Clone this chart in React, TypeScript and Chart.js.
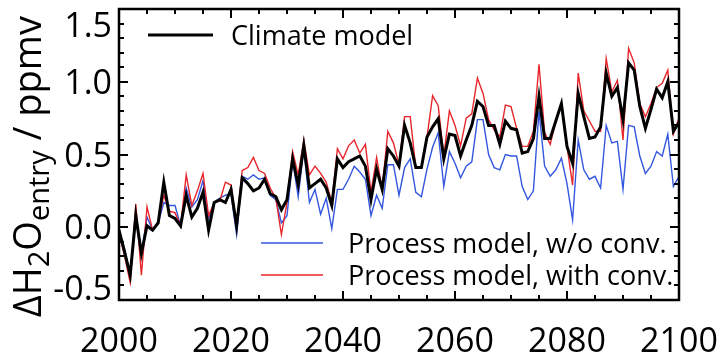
import { useEffect, useRef } from "react";
import { Chart, registerables } from "chart.js";

Chart.register(...registerables);

// Annual anomalies of stratospheric entry water vapour, 2000-2100 (ppmv)
const years: number[] = Array.from({ length: 101 }, (_, i) => 2000 + i);

const climateModel: number[] = [
  -0.02, -0.17, -0.33, 0.08, -0.18, 0.01, -0.02, 0.03, 0.31, 0.08,
  0.06, 0.01, 0.22, 0.07, 0.13, 0.24, -0.02, 0.17, 0.19, 0.17,
  0.26, 0.01, 0.34, 0.3, 0.25, 0.27, 0.33, 0.23, 0.21, 0.12,
  0.19, 0.47, 0.29, 0.56, 0.27, 0.3, 0.33, 0.27, 0.15, 0.47,
  0.41, 0.45, 0.47, 0.49, 0.42, 0.19, 0.4, 0.26, 0.54, 0.49,
  0.42, 0.7, 0.58, 0.41, 0.41, 0.62, 0.69, 0.745, 0.47, 0.64,
  0.63, 0.49, 0.6, 0.7, 0.865, 0.83, 0.7, 0.7, 0.57, 0.73,
  0.68, 0.67, 0.51, 0.52, 0.61, 0.9, 0.61, 0.61, 0.73, 0.85,
  0.556, 0.44, 0.92, 0.76, 0.61, 0.62, 0.69, 1.06, 0.9, 0.96,
  0.74, 1.13, 1.08, 0.83, 0.68, 0.81, 0.95, 0.89, 1.0, 0.66,
  0.72,
];

const processNoConv: number[] = [
  -0.02, -0.15, -0.33, 0.05, -0.18, 0.07, -0.02, 0.03, 0.17, 0.15,
  0.15, 0.01, 0.27, 0.14, 0.19, 0.32, 0.06, 0.17, 0.2, 0.22,
  0.23, -0.05, 0.35, 0.33, 0.36, 0.33, 0.34, 0.22, 0.19, 0.03,
  0.08, 0.46, 0.21, 0.54, 0.17, 0.26, 0.09, 0.2, -0.01, 0.26,
  0.26, 0.33, 0.42, 0.38, 0.33, 0.08, 0.22, 0.13, 0.43, 0.43,
  0.22, 0.41, 0.47, 0.24, 0.21, 0.4, 0.55, 0.65, 0.28, 0.52,
  0.44, 0.34, 0.42, 0.45, 0.74, 0.74, 0.5, 0.41, 0.395, 0.5,
  0.49, 0.49, 0.28, 0.19, 0.25, 0.8, 0.42, 0.35, 0.395, 0.475,
  0.3, 0.05, 0.6, 0.395, 0.33, 0.35, 0.27, 0.7, 0.58, 0.59,
  0.26, 0.7, 0.69, 0.49, 0.37, 0.42, 0.52, 0.49, 0.64, 0.28,
  0.35,
];

const processWithConv: number[] = [
  -0.04, -0.2, -0.38, 0.16, -0.33, 0.14, -0.02, 0.04, 0.22, 0.11,
  0.1, 0.01, 0.36, 0.15, 0.25, 0.37, 0.08, 0.17, 0.18, 0.31,
  0.29, 0.01, 0.39, 0.41, 0.48, 0.39, 0.37, 0.27, 0.2, -0.05,
  0.17, 0.52, 0.36, 0.6, 0.36, 0.42, 0.37, 0.31, 0.17, 0.54,
  0.47, 0.56, 0.6, 0.51, 0.57, 0.24, 0.48, 0.26, 0.66, 0.58,
  0.43, 0.76, 0.76, 0.41, 0.41, 0.62, 0.905, 0.836, 0.49, 0.8,
  0.7, 0.56, 0.75, 0.78, 1.025, 0.92, 0.74, 0.67, 0.62, 0.84,
  0.83, 0.68, 0.556, 0.556, 0.66, 1.12, 0.65, 0.57, 0.73, 0.85,
  0.556, 0.29, 1.06, 0.8, 0.73, 0.66, 0.66, 1.16, 0.93, 1.01,
  0.6, 1.23, 1.13, 0.85, 0.76, 0.85, 0.96, 0.99, 1.08, 0.64,
  0.75,
];

const xTickValues: number[] = [2000, 2020, 2040, 2060, 2080, 2100];
const xTickLabels: string[] = ["2000", "2020", "2040", "2060", "2080", "2100"];
const yTickValues: number[] = [-0.5, 0.0, 0.5, 1.0, 1.5];
const yTickLabels: string[] = ["-0.5", "0.0", "0.5", "1.0", "1.5"];
const xMinorStep = 5;
const yMinorStep = 0.1;

const seriesNames: string[] = [
  "Climate model",
  "Process model, w/o conv.",
  "Process model, with conv.",
];

const FONT = '"Open Sans", "Noto Sans", "DejaVu Sans", sans-serif';
const BLACK = "#000000";
const BLUE = "#3357e0";
const RED = "#e8262b";

function toPoints(values: number[]) {
  return values.map((v, i) => ({ x: years[i], y: v }));
}

// Frame with inward ticks on all four sides, tick labels, axis title and legend
const decorPlugin = {
  id: "idlDecor",
  afterDatasetsDraw(chart: any) {
    const { ctx, chartArea: a, scales } = chart;
    const xs = scales.x;
    const ys = scales.y;
    ctx.save();

    // ticks
    ctx.strokeStyle = BLACK;
    ctx.lineWidth = 2;
    ctx.lineCap = "butt";
    for (let v = xs.min; v <= xs.max + 1e-6; v += xMinorStep) {
      const px = Math.round(xs.getPixelForValue(v));
      const major = xTickValues.includes(Math.round(v));
      const len = major ? 9 : 5;
      ctx.beginPath();
      ctx.moveTo(px, a.bottom);
      ctx.lineTo(px, a.bottom - len);
      ctx.moveTo(px, a.top);
      ctx.lineTo(px, a.top + len);
      ctx.stroke();
    }
    const nY = Math.round((ys.max - ys.min) / yMinorStep);
    for (let k = 0; k <= nY; k++) {
      const v = ys.min + k * yMinorStep;
      const py = Math.round(ys.getPixelForValue(v));
      const major = yTickValues.some((t) => Math.abs(t - v) < 1e-6);
      const len = major ? 9 : 5;
      ctx.beginPath();
      ctx.moveTo(a.left, py);
      ctx.lineTo(a.left + len, py);
      ctx.moveTo(a.right, py);
      ctx.lineTo(a.right - len, py);
      ctx.stroke();
    }

    // frame
    ctx.lineWidth = 2.5;
    ctx.strokeRect(a.left, a.top, a.right - a.left, a.bottom - a.top);

    // tick labels
    ctx.fillStyle = BLACK;
    ctx.font = `34px ${FONT}`;
    ctx.textAlign = "center";
    ctx.textBaseline = "alphabetic";
    xTickValues.forEach((v, i) => {
      ctx.fillText(xTickLabels[i], xs.getPixelForValue(v), a.bottom + 52);
    });
    ctx.textAlign = "right";
    yTickValues.forEach((v, i) => {
      const py = ys.getPixelForValue(v);
      const cy = Math.min(Math.max(py, a.top + 16), a.bottom - 12);
      ctx.fillText(yTickLabels[i], a.left - 7, cy + 12);
    });

    // y axis title with subscripts, rotated to read bottom-to-top
    const mainFont = `38px ${FONT}`;
    const subFont = `29px ${FONT}`;
    const parts: { t: string; sub: boolean }[] = [
      { t: "\u0394H", sub: false },
      { t: "2", sub: true },
      { t: "O", sub: false },
      { t: "entry", sub: true },
      { t: " / ppmv", sub: false },
    ];
    let total = 0;
    parts.forEach((p) => {
      ctx.font = p.sub ? subFont : mainFont;
      total += ctx.measureText(p.t).width;
    });
    ctx.save();
    ctx.translate(41, 16 + total);
    ctx.rotate(-Math.PI / 2);
    ctx.textAlign = "left";
    let cx = 0;
    parts.forEach((p) => {
      ctx.font = p.sub ? subFont : mainFont;
      ctx.fillText(p.t, cx, p.sub ? 8 : 0);
      cx += ctx.measureText(p.t).width;
    });
    ctx.restore();

    // legend
    ctx.font = `27px ${FONT}`;
    ctx.textAlign = "left";
    ctx.textBaseline = "alphabetic";
    const legendItems = [
      { color: BLACK, width: 3, x0: a.left + 29, x1: a.left + 94, y: a.top + 26, tx: a.left + 112, ty: a.top + 36 },
      { color: BLUE, width: 1.5, x0: 261, x1: 323, y: 243, tx: 348, ty: 253 },
      { color: RED, width: 1.5, x0: 261, x1: 323, y: 275, tx: 348, ty: 285 },
    ];
    legendItems.forEach((it, i) => {
      ctx.strokeStyle = it.color;
      ctx.lineWidth = it.width;
      ctx.beginPath();
      ctx.moveTo(it.x0, it.y);
      ctx.lineTo(it.x1, it.y);
      ctx.stroke();
      ctx.fillStyle = BLACK;
      ctx.fillText(seriesNames[i], it.tx, it.ty);
    });

    ctx.restore();
  },
};

export default function App() {
  const canvasRef = useRef<HTMLCanvasElement | null>(null);

  useEffect(() => {
    document.body.style.margin = "0";
    const canvas = canvasRef.current;
    if (!canvas) return;
    const chart = new Chart(canvas, {
      type: "line",
      data: {
        datasets: [
          {
            label: seriesNames[0],
            data: toPoints(climateModel),
            borderColor: BLACK,
            borderWidth: 3,
            pointRadius: 0,
            tension: 0,
          },
          {
            label: seriesNames[2],
            data: toPoints(processWithConv),
            borderColor: RED,
            borderWidth: 1.4,
            pointRadius: 0,
            tension: 0,
          },
          {
            label: seriesNames[1],
            data: toPoints(processNoConv),
            borderColor: BLUE,
            borderWidth: 1.4,
            pointRadius: 0,
            tension: 0,
          },
        ],
      },
      options: {
        responsive: false,
        animation: false,
        devicePixelRatio: 1,
        layout: { padding: { left: 119, right: 40, top: 9, bottom: 56 } },
        plugins: { legend: { display: false }, tooltip: { enabled: false } },
        scales: {
          x: { type: "linear", min: 2000, max: 2100, display: false },
          y: { type: "linear", min: -0.5, max: 1.5, display: false },
        },
      },
      plugins: [decorPlugin],
    });
    return () => chart.destroy();
  }, []);

  return (
    <div style={{ position: "absolute", left: 0, top: 0, width: 719, height: 356, background: "#fff" }}>
      <canvas ref={canvasRef} width={719} height={356} style={{ display: "block" }} />
    </div>
  );
}
